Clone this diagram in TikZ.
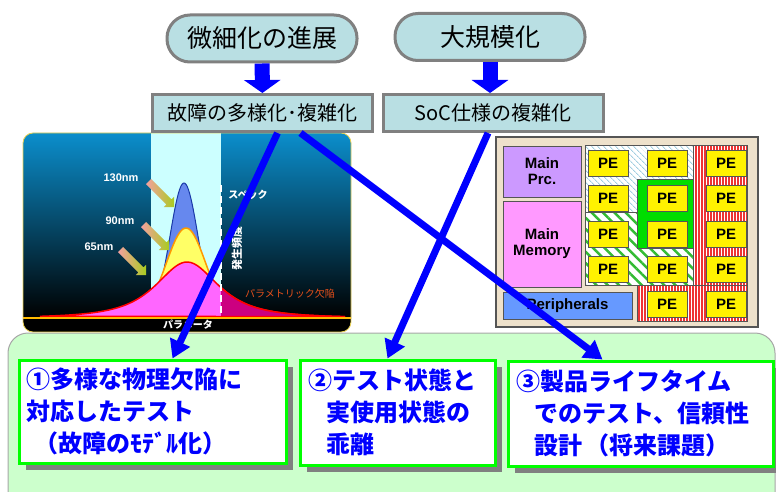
\documentclass[tikz,border=0pt]{standalone}
\usepackage{fontspec}
\setmainfont{Liberation Sans}
\newfontfamily\jp{Noto Sans CJK JP}
\usepackage{tikz}
\usetikzlibrary{shapes.arrows,arrows.meta,patterns.meta,shadows,positioning}

\definecolor{nodefill}{HTML}{B9DFE3}
\definecolor{nodeline}{HTML}{808080}
\definecolor{arrblue}{HTML}{0000FF}
\definecolor{panelgreen}{HTML}{CCFFCC}
\definecolor{boxgreen}{HTML}{00FF00}
\definecolor{shadowgray}{HTML}{808080}
\definecolor{gtop}{HTML}{0B8ECC}
\definecolor{gmid}{HTML}{0976AE}
\definecolor{bandcyan}{HTML}{CCFFFF}
\definecolor{c130}{HTML}{6688EE}
\definecolor{c130line}{HTML}{1A3AA8}
\definecolor{c90}{HTML}{FFFF66}
\definecolor{c90line}{HTML}{FF9900}
\definecolor{c65}{HTML}{FF66FF}
\definecolor{c65dark}{HTML}{CC0080}
\definecolor{c65line}{HTML}{FF0000}
\definecolor{axisline}{HTML}{FFBB00}
\definecolor{panelrim}{HTML}{E8D050}
\definecolor{defectred}{HTML}{E8501A}
\definecolor{arrpink}{HTML}{F4A0A0}
\definecolor{arrlime}{HTML}{A8CC20}
\definecolor{socbeige}{HTML}{EEE1CB}
\definecolor{socrim}{HTML}{555555}
\definecolor{prcpurple}{HTML}{CC99FF}
\definecolor{mempink}{HTML}{FF99FF}
\definecolor{periblue}{HTML}{6699FF}
\definecolor{hatchblue}{HTML}{A0CEE0}
\definecolor{hatchgreen}{HTML}{33BB33}
\definecolor{solidgreen}{HTML}{00DD00}
\definecolor{stripered}{HTML}{EE3333}

\tikzset{
  trend/.style={ draw=nodeline, line width=3pt, fill=nodefill, rounded corners=23pt,
    minimum width=190pt, minimum height=47pt, font=\jp\fontsize{25}{25}\selectfont }
}
\tikzset{
  issue/.style={ draw=nodeline, line width=3pt, fill=nodefill,
    minimum width=220pt, minimum height=37pt, font=\jp\fontsize{20}{20}\selectfont }
}
\tikzset{
  target/.style={ draw=boxgreen, line width=3pt, fill=white, align=left, inner xsep=8pt,
    drop shadow={shadow xshift=7pt, shadow yshift=-7pt, fill=shadowgray, opacity=1},
    text=arrblue, font=\jp\bfseries\fontsize{24}{32}\selectfont }
}
\tikzset{
  blockarr/.style={ arrblue, line width=15pt, -{Triangle[width=36pt,length=13pt]} }
}
\tikzset{
  thinarr/.style={ arrblue, line width=7pt, -{Triangle[width=21pt,length=18pt]} }
}
\tikzset{
  gradarr/.style={ single arrow, single arrow head extend=3.5pt, inner sep=3.5pt,
    minimum height=36pt, left color=arrpink, right color=arrlime, rotate=-45 }
}
\tikzset{
  glabel/.style={ text=white, font=\bfseries\fontsize{11}{11}\selectfont }
}
\tikzset{
  block/.style={ draw=socrim, line width=1pt, align=center, inner sep=0pt,
    font=\bfseries\fontsize{15}{16}\selectfont }
}
\tikzset{
  pebox/.style={ block, fill=yellow, minimum width=40pt, minimum height=26pt }
}
\tikzset{
  hatch/.style={ preaction={fill=white}, draw=socrim, line width=0.8pt }
}

\begin{document}
\begin{tikzpicture}[x=1pt, y=-1pt]
  \clip (0,0) rectangle (776,492);

  % lower panel with the three targets
  \draw[fill=panelgreen, draw=gray!70, line width=1pt, rounded corners=20pt] (8,333) rectangle (775,530);

  % distribution chart
  \begin{scope}
    \clip[rounded corners=10pt] (23,133) rectangle (351,332);
    \shade[top color=gtop, middle color=gmid, bottom color=black] (23,133) rectangle (351,318);
    \fill[black] (23,318) rectangle (351,332);
    \fill[bandcyan] (151,133) rectangle (221,318);
    \filldraw[fill=c130, draw=c130line, line width=1pt]
      plot[domain=134:234, samples=80] (\x,{318-135*exp(-((\x-184)/19.8)^2)}) -- cycle;
    \filldraw[fill=c90, draw=c90line, line width=1.5pt]
      plot[domain=111:261, samples=80] (\x,{318-90*exp(-((\x-186)/28)^2)}) -- cycle;
    \filldraw[fill=c65, draw=c65line, line width=1.5pt]
      plot[domain=40:345, samples=100] (\x,{318-56/((1+((\x-187)/48)^2)^1.5)}) -- cycle;
    \begin{scope}
      \clip (221,133) rectangle (351,318);
      \filldraw[fill=c65dark, draw=c65line, line width=1.5pt]
        plot[domain=40:345, samples=100] (\x,{318-56/((1+((\x-187)/48)^2)^1.5)}) -- cycle;
    \end{scope}
    \draw[white, line width=2pt, dash pattern=on 7pt off 4pt] (221,185) -- (221,318);
    \draw[axisline, line width=2pt] (23,318) -- (351,318);
  \end{scope}
  \draw[panelrim, line width=0.8pt, rounded corners=10pt] (23,133) rectangle (351,332);

  \node[glabel] (lbl130) at (121,178) {130nm};
  \node[glabel] (lbl90) at (120,221) {90nm};
  \node[glabel] (lbl65) at (99,247) {65nm};
  \node[gradarr] (g130) at (160,193) {};
  \node[gradarr] (g90) at (155,236) {};
  \node[gradarr] (g65) at (132,261) {};
  \node[text=white, font=\jp\bfseries\fontsize{10}{10}\selectfont] (spec) at (248,195) {スペック};
  \node[text=white, rotate=90, font=\jp\bfseries\fontsize{11}{11}\selectfont] (freq) at (237,248) {発生頻度};
  \node[text=defectred, font=\jp\fontsize{10}{10}\selectfont] (pdef) at (290,294) {パラメトリック欠陥};
  \node[text=white, font=\jp\bfseries\fontsize{10}{10}\selectfont] (param) at (188,325) {パラメータ};

  % SoC floor plan
  \draw[fill=socbeige, draw=socrim, line width=1.2pt] (496,137) rectangle (758,327);
  \path[hatch, pattern={Lines[angle=-45,distance=4pt,line width=1pt]}, pattern color=hatchblue]
    (585,145) -- (693,145) -- (693,179) -- (637,179) -- (637,212) -- (585,212) -- cycle;
  \path[hatch, pattern={Lines[angle=-45,distance=8pt,line width=2.5pt]}, pattern color=hatchgreen]
    (585,212) -- (637,212) -- (637,248) -- (693,248) -- (693,285) -- (585,285) -- cycle;
  \draw[fill=solidgreen, draw=socrim, line width=0.8pt] (637,179) rectangle (693,248);
  \path[hatch, pattern={Lines[angle=90,distance=3pt,line width=1.2pt]}, pattern color=stripered]
    (693,145) rectangle (747,285);
  \path[hatch, pattern={Lines[angle=90,distance=3pt,line width=1.2pt]}, pattern color=stripered]
    (637,285) rectangle (747,321);

  \node[block, fill=prcpurple, minimum width=78pt, minimum height=51pt] (mprc) at (542,171.5) {Main\\Prc.};
  \node[block, fill=mempink, minimum width=78pt, minimum height=86pt] (mmem) at (542,244) {Main\\Memory};
  \node[block, fill=periblue, minimum width=129pt, minimum height=27pt] (periph) at (567.5,305.5) {Peripherals};

  \foreach \r/\y in {1/163,2/198.5,3/234,4/269}
    \foreach \c/\x in {1/608,2/667,3/726}
      \node[pebox] (pe\r\c) at (\x,\y) {PE};
  \foreach \c/\x in {2/667,3/726}
    \node[pebox] (pe5\c) at (\x,304) {PE};

  % causes and what they lead to
  \node[trend] (trend1) at (262,38.5) {微細化の進展};
  \node[trend] (trend2) at (490,37) {大規模化};
  \node[issue] (fault) at (262.5,113) {故障の多様化･複雑化};
  \node[issue] (soc) at (493,113) {SoC仕様の複雑化};
  \draw[blockarr] (trend1) -- (fault);
  \draw[blockarr] (trend2.south) -- (trend2.south |- soc.north);

  \node[target, text width=251pt, minimum height=103pt] (t1) at (152.5,411.5)
    {①多様な物理欠陥に\\対応したテスト\\\hspace*{8pt}（故障のﾓﾃﾞﾙ化）};
  \node[target, text width=179pt, minimum height=105pt] (t2) at (397.5,412.5)
    {②テスト状態と\\\hspace*{18pt}実使用状態の\\\hspace*{18pt}乖離};
  \node[target, text width=249pt, minimum height=105pt] (t3) at (640.5,413.5)
    {③製品ライフタイム\\\hspace*{18pt}でのテスト、信頼性\\\hspace*{18pt}設計\,（将来課題）};

  \draw[thinarr] ([xshift=15pt]fault.south) -- ([xshift=20pt]t1.north);
  \draw[thinarr] ([xshift=38pt]fault.south) -- ([xshift=-38pt]t3.north);
  \draw[thinarr] ([xshift=-5pt]soc.south) -- ([xshift=-10pt]t2.north);
\end{tikzpicture}
\end{document}
